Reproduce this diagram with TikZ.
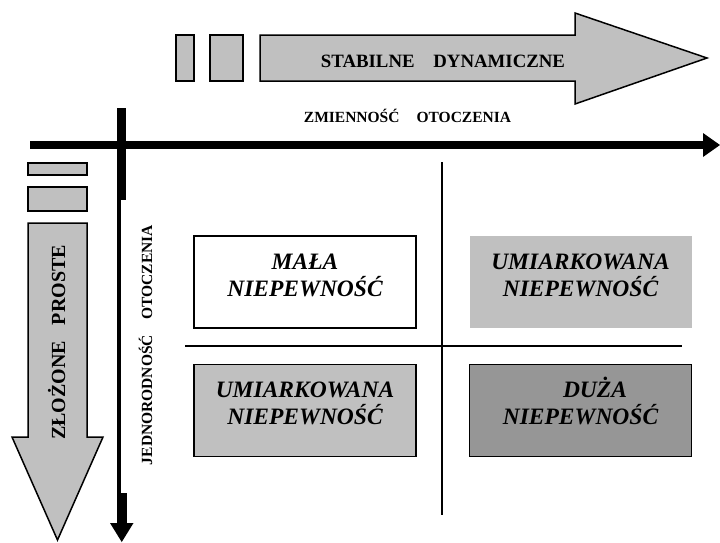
\documentclass[tikz,border=0pt]{standalone}
\usepackage{fontspec}
\setmainfont{Liberation Serif}
\definecolor{lightgrey}{HTML}{C0C0C0}
\definecolor{midgrey}{HTML}{969696}
\begin{document}
\begin{tikzpicture}[x=1pt,y=-1pt,
  shaft/.style={fill=lightgrey, draw=black, line width=1.5pt, line join=miter},
  quad/.style={line width=1.5pt, minimum width=222pt, minimum height=92pt,
    inner sep=0pt, outer sep=0pt},
  quadtext/.style={font=\fontsize{23.5}{27}\selectfont\bfseries\itshape,
    anchor=base, inner sep=0pt},
  axislabel/.style={font=\fontsize{15.5}{18}\selectfont\bfseries,
    anchor=base, inner sep=0pt},
  axisline/.style={draw=black, line cap=butt},
  divider/.style={draw=black, line width=1.8pt}]
\useasboundingbox (0,0) rectangle (720,542);

% top block arrow: stable -> dynamic
\draw[shaft] (176,35) rectangle (194,81);
\draw[shaft] (210,35) rectangle (243,81);
\draw[shaft] (260,35) -- (575,35) -- (575,13) -- (707,58) -- (575,104)
  -- (575,81) -- (260,81) -- cycle;
\node[font=\fontsize{18.8}{22}\selectfont\bfseries, anchor=base, inner sep=0pt]
  (dyn) at (443,67) {STABILNE\hspace{1em}DYNAMICZNE};
\node[axislabel] (zmien) at (407.5,122.5) {ZMIENNOŚĆ\hspace{1.1em}OTOCZENIA};

% left block arrow: complex / simple
\draw[shaft] (28,163) rectangle (87,175);
\draw[shaft] (28,187) rectangle (87,211);
\draw[shaft] (28,223) -- (87,223) -- (87,437) -- (103,437) -- (57.5,540)
  -- (12,437) -- (28,437) -- cycle;
\node[font=\fontsize{20}{24}\selectfont\bfseries, anchor=base, inner sep=0pt,
  rotate=90] (zloz) at (65,342.5) {ZŁOŻONE\hspace{0.8em}PROSTE};

% horizontal axis
\coordinate (h0) at (30,145);
\coordinate (h1) at (704,145);
\draw[axisline, line width=8pt] (h0) -- (h1);
\fill (703,133) -- (720,145) -- (703,157) -- cycle;

% vertical axis: thick near the crossing and the tip, thin between
\coordinate (v0) at (121.5,108);
\coordinate (v1) at (121.5,200);
\draw[axisline, line width=9pt] (v0) -- (v1);
\draw[axisline, line width=3.5pt] (119,199) -- (119,524);
\draw[axisline, line width=9pt] (122.5,493) -- (122.5,524);
\fill (110,523) -- (133.5,523) -- (121.75,542) -- cycle;
\node[axislabel, rotate=90] (jedn) at (152,345)
  {JEDNORODNOŚĆ\hspace{1em}OTOCZENIA};

% quadrant dividers
\draw[divider] (442,162) -- (442,515);
\draw[divider] (185,346) -- (682,346);

% quadrants
\node[quad, draw=black, fill=white] (tl) at (305,282) {};
\node[quad, fill=lightgrey] (tr) at (580.5,282) {};
\node[quad, draw=black, fill=lightgrey] (bl) at (305,410.5) {};
\node[quad, draw=black, fill=midgrey] (br) at (580.5,410.5) {};

\node[quadtext] (tl1) at (305,269) {MAŁA};
\node[quadtext] (tl2) at (305,296) {NIEPEWNOŚĆ};
\node[quadtext] (tr1) at (580.5,269) {UMIARKOWANA};
\node[quadtext] (tr2) at (580.5,296) {NIEPEWNOŚĆ};
\node[quadtext] (bl1) at (305,397) {UMIARKOWANA};
\node[quadtext] (bl2) at (305,424) {NIEPEWNOŚĆ};
\node[quadtext] (br1) at (595,397) {DUŻA};
\node[quadtext] (br2) at (580.5,424) {NIEPEWNOŚĆ};
\end{tikzpicture}
\end{document}
